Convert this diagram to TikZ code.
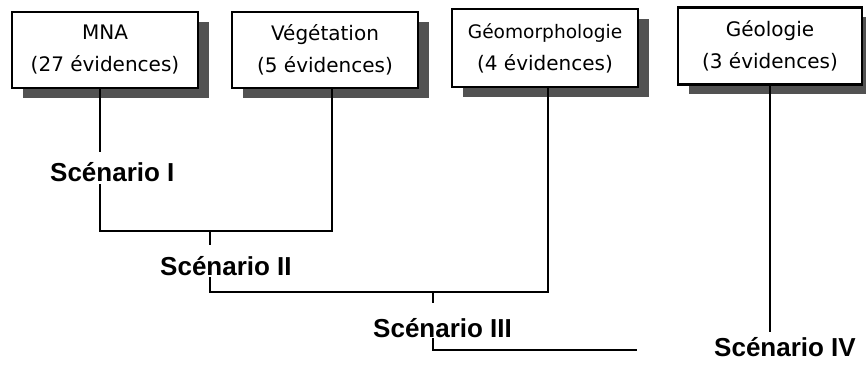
\documentclass[tikz,border=0pt]{standalone}
\usepackage{fontspec}
\setmainfont{DejaVu Sans}
\newfontfamily\scenfont{Liberation Sans}
\usetikzlibrary{shadows,calc}
\begin{document}
\begin{tikzpicture}[x=1pt,y=-1pt,
  srcbox/.style={draw=black, line width=2.2pt, fill=white, minimum width=186pt,
    inner sep=0pt, align=center, font=\fontsize{20}{32}\selectfont,
    drop shadow={shadow xshift=11pt, shadow yshift=-10pt, fill=black!68, opacity=1}},
  conn/.style={line width=1.4pt, black},
  scen/.style={anchor=base west, inner sep=0pt, fill=white,
    font=\scenfont\bfseries\fontsize{26}{30}\selectfont, text depth=2pt}
]
\useasboundingbox (0,0) rectangle (866,366);

\node[srcbox, minimum height=76pt] (B1) at (105,50) {MNA\\(27 évidences)};
\node[srcbox, minimum height=76pt] (B2) at (325,50) {Végétation\\(5 évidences)};
\node[srcbox, minimum height=78pt] (B3) at (545,48) {{\fontsize{18.6}{32}\selectfont Géomorphologie}\\(4 évidences)};
\node[srcbox, minimum height=77pt, minimum width=184pt] (B4) at (770,46) {Géologie\\(3 évidences)};

\coordinate (J1a) at (100,231);
\coordinate (J1b) at (332,231);
\coordinate (J1) at (210,231);
\coordinate (J2a) at (210,292);
\coordinate (J2b) at (548,292);
\coordinate (J3) at (433,292);
\coordinate (J3a) at (433,350);
\coordinate (J3e) at (637,350);

\draw[conn] (B1.south -| J1a) -- (J1a) -- (J1b) -- (B2.south -| J1b);
\draw[conn] (J1) -- (J2a) -- (J2b) -- (B3.south -| J2b);
\draw[conn] (J3) -- (J3a) -- (J3e);

\node[scen, text height=30pt] (S1) at (50,182) {Scénario I};
\node[scen, text height=30pt] (S2) at (160,275) {Scénario II};
\node[scen, text height=34pt, text depth=1pt] (S3) at (373,337) {Scénario III};
\node[scen, text height=24pt, fill=none] (S4) at (714,356) {Scénario IV};

\draw[conn] (B4.south -| 770,0) -- (S4.north -| 770,0);
\end{tikzpicture}
\end{document}
